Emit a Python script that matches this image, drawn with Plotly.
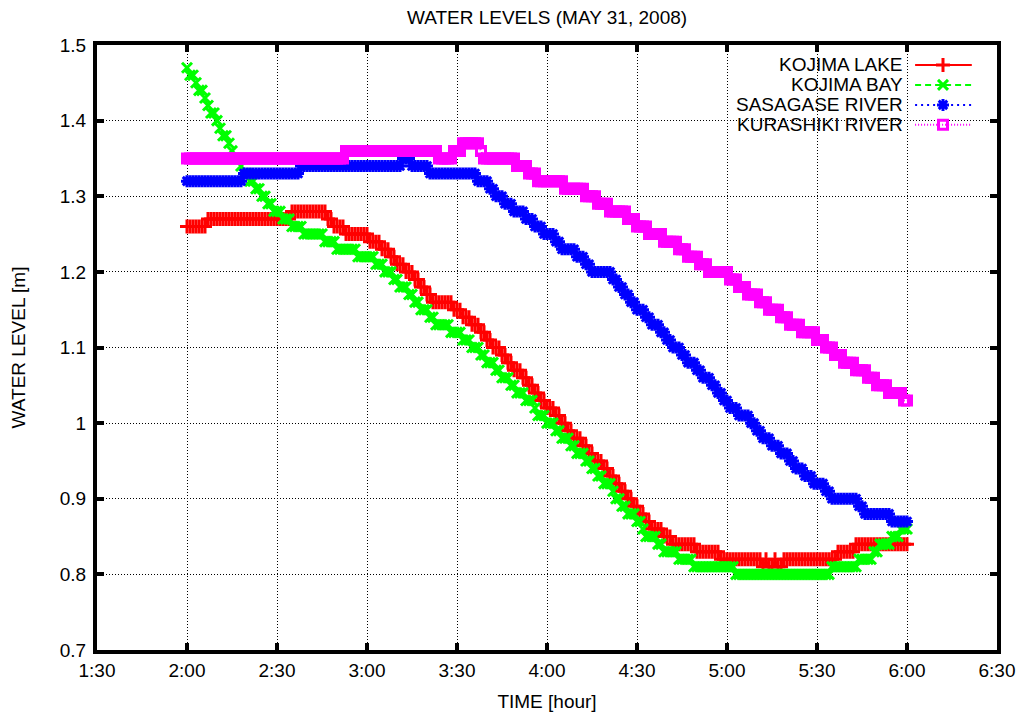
import plotly.graph_objects as go

# ---- data ----
# minutes after 2:00 at which each level begins, and the level (m)
lake_start = [0, 7, 35, 47, 49, 53, 61, 65, 68, 70, 73, 76, 78, 80, 82, 89, 92, 95, 98, 100,
              102, 105, 107, 109, 112, 114, 116, 118, 120, 123, 125, 127, 129, 132, 134, 136,
              139, 141, 143, 145, 147, 149, 151, 153, 155, 159, 162, 170, 178, 192, 193, 194,
              196, 197, 199, 217, 223]
lake_level = [1.26, 1.27, 1.28, 1.27, 1.26, 1.25, 1.24, 1.23, 1.22, 1.21, 1.20, 1.19, 1.18,
              1.17, 1.16, 1.15, 1.14, 1.13, 1.12, 1.11, 1.10, 1.09, 1.08, 1.07, 1.06, 1.05,
              1.04, 1.03, 1.02, 1.01, 1.00, 0.99, 0.98, 0.97, 0.96, 0.95, 0.94, 0.93, 0.92,
              0.91, 0.90, 0.89, 0.88, 0.87, 0.86, 0.85, 0.84, 0.83, 0.82, 0.81, 0.82, 0.81,
              0.82, 0.81, 0.82, 0.83, 0.84]

bay_start = [0, 1, 3, 4, 6, 7, 8, 10, 11, 12, 14, 15, 16, 18, 19, 21, 23, 25, 27, 29, 32, 35,
             39, 46, 50, 57, 63, 66, 69, 71, 74, 76, 78, 81, 83, 88, 92, 95, 98, 100, 103, 105,
             108, 110, 113, 116, 117, 120, 123, 125, 128, 130, 133, 135, 137, 139, 142, 143,
             145, 147, 150, 152, 153, 157, 159, 164, 169, 183, 215, 224, 229, 231, 235, 238]
bay_level = [1.47, 1.46, 1.45, 1.44, 1.43, 1.42, 1.41, 1.40, 1.39, 1.38, 1.37, 1.36, 1.35,
             1.34, 1.33, 1.32, 1.31, 1.30, 1.29, 1.28, 1.27, 1.26, 1.25, 1.24, 1.23, 1.22,
             1.21, 1.20, 1.19, 1.18, 1.17, 1.16, 1.15, 1.14, 1.13, 1.12, 1.11, 1.10, 1.09,
             1.08, 1.07, 1.06, 1.05, 1.04, 1.03, 1.02, 1.01, 1.00, 0.99, 0.98, 0.97, 0.96,
             0.95, 0.94, 0.93, 0.92, 0.91, 0.90, 0.89, 0.88, 0.87, 0.86, 0.85, 0.84, 0.83,
             0.82, 0.81, 0.80, 0.81, 0.82, 0.83, 0.84, 0.85, 0.86]

sasagase_start = [0, 19, 38, 72, 75, 81, 97, 101, 103, 106, 109, 113, 116, 119, 123, 125, 130,
                  133, 135, 142, 144, 146, 148, 150, 153, 155, 158, 160, 162, 165, 167, 170,
                  172, 175, 177, 179, 181, 184, 188, 190, 192, 195, 198, 201, 203, 206, 209,
                  213, 215, 224, 226, 235]
sasagase_level = [1.32, 1.33, 1.34, 1.35, 1.34, 1.33, 1.32, 1.31, 1.30, 1.29, 1.28, 1.27,
                  1.26, 1.25, 1.24, 1.23, 1.22, 1.21, 1.20, 1.19, 1.18, 1.17, 1.16, 1.15,
                  1.14, 1.13, 1.12, 1.11, 1.10, 1.09, 1.08, 1.07, 1.06, 1.05, 1.04, 1.03,
                  1.02, 1.01, 1.00, 0.99, 0.98, 0.97, 0.96, 0.95, 0.94, 0.93, 0.92, 0.91,
                  0.90, 0.89, 0.88, 0.87]

kurashiki_start = [0, 53, 84, 89, 92, 98, 99, 110, 114, 117, 126, 133, 137, 141, 147, 150,
                   154, 159, 164, 167, 171, 174, 181, 184, 187, 191, 194, 198, 201, 205, 210,
                   213, 216, 219, 223, 227, 230, 234, 239]
kurashiki_level = [1.35, 1.36, 1.35, 1.36, 1.37, 1.36, 1.35, 1.34, 1.33, 1.32, 1.31, 1.30,
                   1.29, 1.28, 1.27, 1.26, 1.25, 1.24, 1.23, 1.22, 1.21, 1.20, 1.19, 1.18,
                   1.17, 1.16, 1.15, 1.14, 1.13, 1.12, 1.11, 1.10, 1.09, 1.08, 1.07, 1.06,
                   1.05, 1.04, 1.03]

start_minute = 120   # 2:00
end_offset = 240     # 6:00
series_names = ["KOJIMA LAKE", "KOJIMA BAY", "SASAGASE RIVER", "KURASHIKI RIVER"]

x_tick_vals = [90, 120, 150, 180, 210, 240, 270, 300, 330, 360, 390]
x_tick_text = ["1:30", "2:00", "2:30", "3:00", "3:30", "4:00", "4:30", "5:00", "5:30", "6:00", "6:30"]
y_tick_vals = [0.7, 0.8, 0.9, 1.0, 1.1, 1.2, 1.3, 1.4, 1.5]
y_tick_text = ["0.7", "0.8", "0.9", "1", "1.1", "1.2", "1.3", "1.4", "1.5"]


def expand(starts, levels):
    """Per-minute samples of a stepwise record (each level holds until the next start)."""
    xs, ys = [], []
    k = 0
    for t in range(end_offset + 1):
        while k + 1 < len(starts) and starts[k + 1] <= t:
            k += 1
        xs.append(start_minute + t)
        ys.append(levels[k])
    return xs, ys


styles = [
    dict(color="#ff0000", dash="solid", symbol="cross-thin-open", size=10, mlw=3),
    dict(color="#00ff00", dash="6px,4px", symbol="x-thin-open", size=10, mlw=3),
    dict(color="#0000ff", dash="2px,4px", symbol="asterisk-open", size=10, mlw=3),
    dict(color="#ff00ff", dash="1px,2px", symbol="square-open", size=9, mlw=3),
]
records = [(lake_start, lake_level), (bay_start, bay_level),
           (sasagase_start, sasagase_level), (kurashiki_start, kurashiki_level)]

FONT = "Liberation Sans, Arial, sans-serif"
FS = 19
fig = go.Figure()

for name, (st, lv), s in zip(series_names, records, styles):
    xs, ys = expand(st, lv)
    fig.add_trace(go.Scatter(
        x=xs, y=ys, mode="lines+markers", name=name, showlegend=False,
        line=dict(color=s["color"], width=2, dash=s["dash"]),
        marker=dict(symbol=s["symbol"], size=s["size"], color=s["color"],
                    line=dict(color=s["color"], width=s["mlw"])),
    ))

# ---- gnuplot-style key (text left, sample right) on an overlay axis ----
key_rows = [0.967, 0.934, 0.901, 0.868]
for name, s, ry in zip(series_names, styles, key_rows):
    fig.add_trace(go.Scatter(
        x=[0.909, 0.972], y=[ry, ry], xaxis="x2", yaxis="y2", mode="lines",
        line=dict(color=s["color"], width=2, dash=s["dash"]), showlegend=False, hoverinfo="skip"))
    fig.add_trace(go.Scatter(
        x=[0.94], y=[ry], xaxis="x2", yaxis="y2", mode="markers",
        marker=dict(symbol=s["symbol"], size=s["size"], color=s["color"],
                    line=dict(color=s["color"], width=s["mlw"])),
        showlegend=False, hoverinfo="skip"))
    fig.add_annotation(x=0.898, y=ry, xref="x2", yref="y2", text=name, showarrow=False,
                       xanchor="right", yanchor="middle",
                       font=dict(family=FONT, size=FS, color="black"))

axis_common = dict(
    showline=True, linewidth=4, linecolor="black", mirror="ticks",
    ticks="inside", ticklen=7, tickwidth=4, tickcolor="black",
    showgrid=True, gridcolor="#000000", gridwidth=1, griddash="1px,2px",
    zeroline=False, automargin=False,
    tickfont=dict(family=FONT, size=FS, color="black"),
)

# the page body has an 8 px margin, so the figure is 16 px smaller than the window
W, H = 1022, 709
fig.update_layout(
    width=W, height=H, autosize=False,
    margin=dict(l=89, r=33, t=37, b=67),
    paper_bgcolor="white", plot_bgcolor="white",
    showlegend=False,
    title=dict(text="WATER LEVELS (MAY 31, 2008)", x=0.5, xref="paper", xanchor="center",
               y=1 - 9 / H, yref="container", yanchor="middle",
               font=dict(family=FONT, size=FS, color="black")),
    xaxis=dict(range=[90, 390], tickvals=x_tick_vals, ticktext=x_tick_text,
               title=dict(text="TIME [hour]", standoff=16,
                          font=dict(family=FONT, size=FS, color="black")),
               **axis_common),
    yaxis=dict(range=[0.7, 1.5], tickvals=y_tick_vals, ticktext=y_tick_text,
               ticklabelstandoff=3,
               title=dict(text="WATER LEVEL [m]", standoff=33,
                          font=dict(family=FONT, size=FS, color="black")),
               **axis_common),
    xaxis2=dict(overlaying="x", range=[0, 1], visible=False, fixedrange=True),
    yaxis2=dict(overlaying="y", range=[0, 1], visible=False, fixedrange=True),
)

fig.write_html("out.html")
